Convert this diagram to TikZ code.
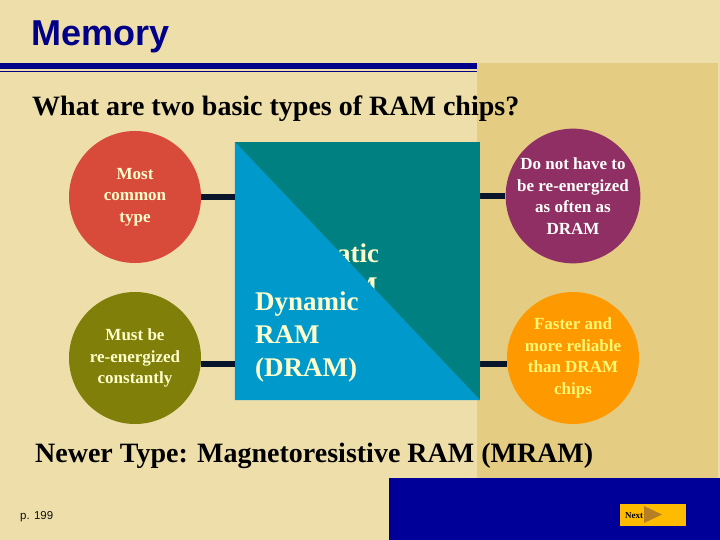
\documentclass[tikz,border=0pt]{standalone}
\usepackage{fontspec}
\setmainfont{Liberation Serif}
\newfontfamily\arialfont{Liberation Sans}
\usepackage{tikz}
\usetikzlibrary{positioning}
\usepackage{xcolor}
\definecolor{mSand}{HTML}{EDDEAA}
\definecolor{mPanel}{HTML}{E4CD82}
\definecolor{mNavy}{HTML}{000088}
\definecolor{mDeep}{HTML}{000099}
\definecolor{mTeal}{HTML}{008080}
\definecolor{mSky}{HTML}{0099CC}
\definecolor{mRed}{HTML}{D84A3A}
\definecolor{mOlive}{HTML}{7F7F0A}
\definecolor{mPurple}{HTML}{8F2F63}
\definecolor{mOrange}{HTML}{FF9900}
\definecolor{mLink}{HTML}{08152B}
\definecolor{mCream}{HTML}{FFFFCC}
\definecolor{mGold}{HTML}{FFBB00}
\definecolor{mInk}{HTML}{111111}

\begin{document}
\begin{tikzpicture}[x=1pt, y=-1pt,
  bubble/.style={circle, minimum size=132pt, inner sep=0pt, align=center,
    font=\bfseries\fontsize{17}{21.5}\selectfont},
  link/.style={draw=mLink, line width=6.5pt},
  bigtext/.style={anchor=base west, inner sep=0pt, font=\bfseries\fontsize{28}{34}\selectfont},
  ramtext/.style={anchor=base west, inner sep=0pt, align=left, text=mCream,
    font=\bfseries\fontsize{27}{33}\selectfont}]
  \useasboundingbox (0,0) rectangle (720,540);
  % slide background and panels
  \fill[mSand] (0,0) rectangle (720,540);
  \fill[mPanel] (477,63) rectangle (718,478);
  \fill[mDeep] (389,478) rectangle (720,540);
  \fill[mNavy] (0,63.5) rectangle (477,69.5);
  \fill[mNavy] (0,70.8) rectangle (477,72.4);
  \node[anchor=base west, inner sep=0pt, text=mNavy, font=\arialfont\bfseries\fontsize{36}{40}\selectfont]
    (title) at (31,46) {Memory};
  \node[bigtext] (question) at (32,116) {What are two basic types of RAM chips?};
  % the two chip types
  \node[rectangle, fill=mTeal, minimum width=245pt, minimum height=258pt, inner sep=0pt]
    (chip) at (357.5,271) {};
  \node[ramtext] (sram) at (313,295) {Static\\RAM};
  \fill[mSky] (chip.north west) -- (chip.south east) -- (chip.south west) -- cycle;
  \node[ramtext] (dram) at (255,376) {Dynamic\\RAM\\(DRAM)};
  % facts about each type
  \node[bubble, fill=mRed, text=mCream] (common) at (135,197) {Most\\common\\type};
  \node[bubble, fill=mOlive, text=mCream] (constant) at (135,358) {Must be\\re-energized\\constantly};
  \node[bubble, fill=mPurple, text=white!92!mCream] (often) at (573,196) {Do not have to\\be re-energized\\as often as\\DRAM};
  \node[bubble, fill=mOrange, text=yellow!55!white] (faster) at (573,358) {Faster and\\more reliable\\than DRAM\\chips};
  \coordinate (low) at (0,364);
  \draw[link] (common.east) -- (chip.west |- common.east);
  \draw[link] (constant.east |- low) -- (chip.west |- low);
  \draw[link] (chip.east |- often.west) -- (often.west);
  \draw[link] (chip.east |- low) -- (faster.west |- low);
  \node[bigtext] (newer) at (35,462) {Newer Type: Magnetoresistive RAM (MRAM)};
  % footer
  \node[anchor=base west, inner sep=0pt, text=mInk, font=\arialfont\fontsize{11.5}{13}\selectfont]
    (page) at (20,519) {p. 199};
  \node[rectangle, fill=mGold, minimum width=66pt, minimum height=22pt, inner sep=0pt]
    (next) at (653,515) {};
  \fill[brown!80!black, opacity=0.7] (644,506) -- (662,514.5) -- (644,523) -- cycle;
  \node[anchor=base west, inner sep=0pt, font=\bfseries\fontsize{9}{10}\selectfont]
    at (625,518) {Next};
\end{tikzpicture}
\end{document}
